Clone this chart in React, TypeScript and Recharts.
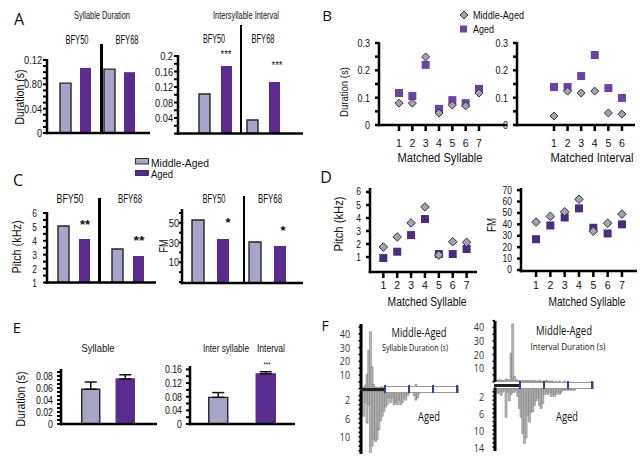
import React from 'react';
import { BarChart, Bar, XAxis, YAxis, ScatterChart, Scatter, ErrorBar, Cell } from 'recharts';

// ---------------- data ----------------
const birds = ['BFY50', 'BFY68'];
const sylDurMiddle = [0.082, 0.105];
const sylDurAged = [0.107, 0.1];
const intDurMiddle = [0.102, 0.035];
const intDurAged = [0.174, 0.133];
const pitchMiddle = [5.06, 3.41];
const pitchAged = [4.13, 2.91];
const fmMiddle = [52.9, 30.5];
const fmAged = [33.6, 26.5];
const FM_AXIS_MIN = -11;

const sylIdx = [1, 2, 3, 4, 5, 6, 7];
const intIdx = [1, 2, 3, 4, 5, 6];
const sylDurMatchedMiddle = [0.08, 0.08, 0.249, 0.044, 0.073, 0.07, 0.117];
const sylDurMatchedAged = [0.117, 0.106, 0.22, 0.059, 0.091, 0.08, 0.132];
const intDurMatchedMiddle = [0.033, 0.124, 0.117, 0.124, 0.044, 0.04];
const intDurMatchedAged = [0.139, 0.139, 0.179, 0.256, 0.135, 0.099];
const pitchMatchedMiddle = [1.77, 2.54, 3.62, 4.85, 1.15, 2.18, 2.13];
const pitchMatchedAged = [0.92, 1.41, 2.69, 3.92, 1.23, 1.23, 1.62];
const fmMatchedMiddle = [42, 47, 51, 62, 34, 41, 49];
const fmMatchedAged = [27, 39, 46, 54, 37, 32, 40];

const groupsE = ['Middle-Aged', 'Aged'];
const sylMean = [0.058, 0.075];
const sylSem = [0.012, 0.007];
const intMean = [0.078, 0.147];
const intSem = [0.014, 0.006];

const histSylMiddle = [0.5, 1, 2.7, 10.5, 28, 41.6, 16, 3, 1, 1, 0.5, 1, 1.5, 0.5, 1, 0.5, 0, 0.5, 1, 0.5, 0, 0, 0.5, 0, 0, 0.5, 1, 0.5, 0, 0, 0, 0, 3, 1.5, 0, 0, 0, 0, 0, 0, 0, 0, 0, 0, 0, 0, 0, 0, 0, 0, 0, 0, 0, 0, 0, 0, 0];
const histSylAged = [4, 5.5, 2.5, 7, 3, 14, 12, 10.5, 11, 10.5, 8.5, 6.5, 5.5, 4.5, 3.5, 3, 1.5, 2.5, 1.5, 3, 2.5, 3, 2, 3, 2.5, 1.5, 2, 1, 0.5, 0, 0, 1, 2, 1.5, 0.5, 0, 0, 0, 0, 0, 0, 0, 0, 0, 0, 0, 0, 0, 0, 0, 0, 0, 0, 0, 0, 0, 0];
const histIntMiddle = [1, 1, 1.5, 1, 1, 0.5, 2, 1.5, 1, 21, 42.5, 4, 1.5, 1, 1, 0.5, 1, 0.5, 1, 1, 0.5, 1, 0.5, 1, 0.5, 0.5, 1, 0.5, 0.5, 0.5, 1, 0.5, 0.5, 0.5, 0.5, 0, 0.5, 0, 0.5, 0, 0, 0.5, 0, 0, 0, 0, 0, 0, 0, 0, 0, 0, 0, 0, 0, 0, 0, 0];
const histIntAged = [0.5, 1.3, 1, 1.7, 1, 0.5, 6.9, 1, 3, 1.5, 1, 1, 0.5, 2, 4.8, 6.9, 10.7, 13, 11.7, 6.5, 8, 5.7, 5.5, 4.1, 3, 2.5, 4.1, 4.8, 3.6, 1.5, 1, 1.5, 1, 2, 1.5, 2, 1.5, 1, 1.5, 1, 0.5, 0.5, 0.5, 0.5, 0.5, 0.5, 0.5, 0.5, 0, 0, 0, 0, 0, 0, 0, 0, 0, 0];

// tick values / labels
const aLeftTicks = [0, 0.01, 0.02, 0.03, 0.04, 0.05, 0.06, 0.07, 0.08, 0.09, 0.1, 0.11, 0.12];
const aLeftLabelVals = [0, 0.04, 0.08, 0.12];
const aLeftLabels = ['0', '0.04', '0.80', '0.12'];
const aRightTicks = [0, 0.02, 0.04, 0.06, 0.08, 0.1, 0.12, 0.14, 0.16, 0.18, 0.2];
const aRightLabelVals = [0.04, 0.08, 0.12, 0.16, 0.2];
const aRightLabels = ['0.04', '0.08', '0.12', '0.16', '0.2'];
const bTicks = [0, 0.05, 0.1, 0.15, 0.2, 0.25, 0.3];
const bLabelVals = [0, 0.1, 0.2, 0.3];
const bLabels = ['0', '0.1', '0.2', '0.3'];
const cLeftTicks = [1, 1.5, 2, 2.5, 3, 3.5, 4, 4.5, 5, 5.5, 6];
const cLeftLabelVals = [1, 2, 3, 4, 5, 6];
const cLeftLabels = ['1', '2', '3', '4', '5', '6'];
const cRightTicks = [-10, 0, 10, 20, 30, 40, 50, 60];
const cRightLabelVals = [10, 30, 50];
const cRightLabels = ['10', '30', '50'];
const dLeftTicks = [1, 2, 3, 4, 5, 6];
const dLeftLabels = ['1', '2', '3', '4', '5', '6'];
const dRightTicks = [0, 10, 20, 30, 40, 50, 60, 70];
const dRightLabels = ['0', '10', '20', '30', '40', '50', '60', '70'];
const eLeftTicks = [0, 0.0067, 0.0133, 0.02, 0.0267, 0.0333, 0.04, 0.0467, 0.0533, 0.06, 0.0667, 0.0733, 0.08, 0.0867];
const eLeftLabelVals = [0, 0.02, 0.04, 0.06, 0.08];
const eLeftLabels = ['0', '0.02', '0.04', '0.06', '0.08'];
const eRightTicks = [0, 0.02, 0.04, 0.06, 0.08, 0.1, 0.12, 0.14, 0.16];
const eRightLabelVals = [0, 0.04, 0.08, 0.12, 0.16];
const eRightLabels = ['0', '0.04', '0.08', '0.12', '0.16'];
const fUpTicks = [0, 5, 10, 15, 20, 25, 30, 35, 40, 45];
const fUpLabelVals = [10, 20, 30, 40];
const fUpLabels = ['10', '20', '30', '40'];
const fLowLeftTicks = [1, 2, 3, 4, 5, 6, 7, 8, 9, 10, 11, 12, 13];
const fLowRightTicks = [1, 2, 3, 4, 5, 6, 7, 8, 9, 10, 11, 12, 13, 14];
const fLowLeftLabelVals = [2, 6, 10];
const fLowLeftLabels = ['2', '6', '10'];
const fLowRightLabelVals = [2, 6, 10, 14];
const fLowRightLabels = ['2', '6', '10', '14'];

// ---------------- layout ----------------
type Fr = { x0: number; x1: number; y0: number; y1: number; yW: number; xH: number };
const frA1: Fr = { x0: 47, x1: 150, y0: 60, y1: 133, yW: 40, xH: 2 };
const frA2: Fr = { x0: 178, x1: 303, y0: 56, y1: 133.5, yW: 40, xH: 2 };
const frB1: Fr = { x0: 379, x1: 507, y0: 43, y1: 125, yW: 36, xH: 26 };
const frB2: Fr = { x0: 517, x1: 635, y0: 43, y1: 125, yW: 36, xH: 26 };
const frC1: Fr = { x0: 47, x1: 156, y0: 213, y1: 282.5, yW: 40, xH: 2 };
const frC2: Fr = { x0: 182, x1: 303, y0: 210, y1: 283, yW: 40, xH: 2 };
const frD1: Fr = { x0: 370, x1: 477, y0: 189, y1: 272, yW: 36, xH: 24 };
const frD2: Fr = { x0: 521, x1: 637, y0: 189, y1: 271, yW: 36, xH: 24 };
const frE1: Fr = { x0: 61, x1: 157, y0: 370, y1: 424, yW: 40, xH: 2 };
const frE2: Fr = { x0: 190, x1: 295, y0: 367, y1: 424, yW: 40, xH: 2 };
const frF1: Fr = { x0: 361, x1: 457, y0: 325, y1: 388.7, yW: 30, xH: 0 };
const frF2: Fr = { x0: 361, x1: 457, y0: 391, y1: 453, yW: 30, xH: 0 };
const frF3: Fr = { x0: 495, x1: 592, y0: 322, y1: 381.7, yW: 30, xH: 0 };
const frF4: Fr = { x0: 495, x1: 592, y0: 387.5, y1: 450, yW: 30, xH: 0 };
const dA1: [number, number] = [0, 0.12];
const dA2: [number, number] = [0, 0.2];
const dB: [number, number] = [0, 0.3];
const xdB1: [number, number] = [-0.5, 9.1];
const xdB2: [number, number] = [-1.72, 6.96];
const dC1: [number, number] = [1, 6];
const dC2: [number, number] = [FM_AXIS_MIN, 63];
const dD1: [number, number] = [-0.15, 6.23];
const dD2: [number, number] = [-0.9, 71];
const xdD1: [number, number] = [0.04, 7.75];
const xdD2: [number, number] = [-0.05, 8.05];
const dE1: [number, number] = [0, 0.09];
const dE2: [number, number] = [0, 0.167];
const dF1: [number, number] = [0, 46.5];
const dF2: [number, number] = [0, 13.5];
const dF3: [number, number] = [0, 44];
const dF4: [number, number] = [0, 14.7];

// ---------------- styles ----------------
const SANS = "'Liberation Sans', Arial, Helvetica, sans-serif";
const NARROW = "'Liberation Sans Narrow', 'Liberation Sans', Arial, sans-serif";
const MYR = "'Open Sans', 'Noto Sans', 'DejaVu Sans', sans-serif";
const MID = '#a7a5c7';
const AGED = '#5b2c8f';
const EDGE = '#262626';
const DIAM = '#a3a1b6';
const SQ_B = '#6c42a3';
const SQ_D = '#4c2c7e';

const MT = 10;
const MR = 4;
const MB = 8;
function fr(f: Fr) {
  return {
    style: { position: 'absolute' as const, left: f.x0 - f.yW, top: f.y0 - MT },
    width: f.x1 - f.x0 + f.yW + MR,
    height: f.y1 - f.y0 + MT + f.xH + MB,
    margin: { top: MT, right: MR, bottom: MB, left: 0 },
  };
}

// axis frame rectangles (axis lines + tick marks), drawn in the overlay svg along each plot frame
function AxisRects(props: {
  f: Fr; yd: [number, number]; yt: number[]; ts: number; tw: number; w: number; down?: boolean; xLine?: boolean;
  xd?: [number, number]; xt?: number[]; xts?: number;
}) {
  const { f, yd, w } = props;
  const H = f.y1 - f.y0;
  const W = f.x1 - f.x0;
  const py = (v: number) => {
    const r = (v - yd[0]) / (yd[1] - yd[0]);
    return props.down ? f.y0 + r * H : f.y1 - r * H;
  };
  const out: any[] = [];
  const box = (x: number, y: number, ww: number, hh: number, k: string) =>
    out.push(<rect key={k} x={x} y={y} width={ww} height={hh} fill="#000" />);
  box(f.x0 - w / 2, f.y0 - (props.down ? 0 : 1), w, H + (props.xLine ? w / 2 : 0) + 1, 'yl');
  if (props.xLine) box(f.x0 - w / 2, f.y1 - w / 2, W + w / 2, w, 'xl');
  props.yt.forEach((v, i) => box(f.x0 - props.ts, py(v) - props.tw / 2, props.ts, props.tw, 'yt' + i));
  if (props.xd && props.xt) {
    const xd = props.xd;
    props.xt.forEach((v, i) => {
      const px = f.x0 + ((v - xd[0]) / (xd[1] - xd[0])) * W;
      box(px - 1.25, f.y1, 2.5, props.xts || 6, 'xt' + i);
    });
  }
  return <g>{out}</g>;
}

function estW(s: string, size: number) {
  let w = 0;
  for (const c of s) w += c === '.' ? 0.278 : c === '-' ? 0.333 : 0.556;
  return w * size;
}

function yTick(vals: number[], labels: string[], size: number, squeeze = 0.8, ff: string = SANS, fill = '#111') {
  return (p: any) => {
    const v = p && p.payload ? p.payload.value : NaN;
    const i = vals.findIndex((t) => Math.abs(t - v) < 1e-6);
    if (i < 0) return <g />;
    return (
      <text x={p.x} y={p.y} textAnchor="end" dominantBaseline="central" fontSize={size} fontFamily={ff} fill={fill}
        textLength={estW(labels[i], size) * squeeze} lengthAdjust="spacingAndGlyphs">
        {labels[i]}
      </text>
    );
  };
}
function xTick(size: number) {
  return (p: any) => (
    <text x={p.x} y={p.y} textAnchor="middle" dominantBaseline="central" fontSize={size} fontFamily={SANS} fill="#111">
      {p.payload.value}
    </text>
  );
}

function Grouped(props: {
  f: Fr; mid: number[]; aged: number[]; base?: number; domain: [number, number]; ticks: number[];
  lv: number[]; ll: string[]; fs: number; bs: number; gap: number; pl: number; pr: number; ts?: number; tm?: number;
}) {
  const { f } = props;
  const p = fr(f);
  const ts = props.ts ?? 4;
  const tm = props.tm ?? 1;
  const data = birds.map((g, i) => ({
    g,
    m: props.base === undefined ? props.mid[i] : [props.base, props.mid[i]],
    a: props.base === undefined ? props.aged[i] : [props.base, props.aged[i]],
  }));
  return (
    <div style={p.style}>
      <BarChart width={p.width} height={p.height} margin={p.margin} data={data} barGap={props.gap} barCategoryGap={0}>
        <XAxis dataKey="g" tick={false} tickLine={false} axisLine={false} height={f.xH} padding={{ left: props.pl, right: props.pr }} />
        <YAxis type="number" domain={props.domain} ticks={props.ticks} interval={0} allowDataOverflow width={f.yW}
          axisLine={false} tickLine={false} tickSize={ts} tickMargin={tm} tick={yTick(props.lv, props.ll, props.fs)} />
        <Bar dataKey="m" fill={MID} stroke={EDGE} strokeWidth={1.4} barSize={props.bs} isAnimationActive={false}>
          {data.map((d) => (
            <Cell key={d.g} fill={MID} stroke={EDGE} strokeWidth={1.4} />
          ))}
        </Bar>
        <Bar dataKey="a" fill={AGED} barSize={props.bs} isAnimationActive={false} />
      </BarChart>
    </div>
  );
}

const diamond = (fill: string, r: number) => (p: any) => (
  <polygon points={`${p.cx},${p.cy - r} ${p.cx + r},${p.cy} ${p.cx},${p.cy + r} ${p.cx - r},${p.cy}`} fill={fill} stroke="#333" strokeWidth={1} />
);
const square = (fill: string, h: number) => (p: any) => (
  <rect x={p.cx - h} y={p.cy - h} width={2 * h} height={2 * h} fill={fill} />
);

function Dots(props: {
  f: Fr; idx: number[]; mid: number[]; aged: number[]; xd: [number, number]; yd: [number, number];
  yt: number[]; lv: number[]; ll: string[]; fs: number; xfs: number; sq: string; r: number; h: number; tm: number;
}) {
  const { f } = props;
  const p = fr(f);
  const midData = props.idx.map((x, i) => ({ x, y: props.mid[i] }));
  const agedData = props.idx.map((x, i) => ({ x, y: props.aged[i] }));
  return (
    <div style={p.style}>
      <ScatterChart width={p.width} height={p.height} margin={p.margin}>
        <XAxis type="number" dataKey="x" domain={props.xd} ticks={props.idx} interval={0} allowDataOverflow height={f.xH}
          axisLine={false} tickLine={false} tickSize={6} tickMargin={props.tm} tick={xTick(props.xfs)} />
        <YAxis type="number" dataKey="y" domain={props.yd} ticks={props.yt} interval={0} allowDataOverflow width={f.yW}
          axisLine={false} tickLine={false} tickSize={4} tickMargin={5} tick={yTick(props.lv, props.ll, props.fs, 0.85)} />
        <Scatter data={agedData} shape={square(props.sq, props.h)} isAnimationActive={false} />
        <Scatter data={midData} shape={diamond(DIAM, props.r)} isAnimationActive={false} />
      </ScatterChart>
    </div>
  );
}

function MeanBars(props: {
  f: Fr; mean: number[]; sem: number[]; domain: [number, number]; ticks: number[]; lv: number[]; ll: string[];
  bs: number; pl: number; pr: number;
}) {
  const { f } = props;
  const p = fr(f);
  const data = groupsE.map((g, i) => ({ g, v: props.mean[i], e: [0, props.sem[i]] }));
  return (
    <div style={p.style}>
      <BarChart width={p.width} height={p.height} margin={p.margin} data={data} barCategoryGap={0}>
        <XAxis dataKey="g" tick={false} tickLine={false} axisLine={false} height={f.xH} padding={{ left: props.pl, right: props.pr }} />
        <YAxis type="number" domain={props.domain} ticks={props.ticks} interval={0} allowDataOverflow width={f.yW}
          axisLine={false} tickLine={false} tickSize={4} tickMargin={4} tick={yTick(props.lv, props.ll, 11, 0.8)} />
        <Bar dataKey="v" barSize={props.bs} isAnimationActive={false}>
          {data.map((d, i) => (
            <Cell key={d.g} fill={i === 0 ? MID : AGED} stroke={i === 0 ? EDGE : AGED} strokeWidth={1.4} />
          ))}
          <ErrorBar dataKey="e" width={6} stroke="#111" strokeWidth={1.5} direction="y" />
        </Bar>
      </BarChart>
    </div>
  );
}

function Hist(props: { f: Fr; vals: number[]; domain: [number, number]; lv: number[]; ll: string[]; down?: boolean; ticks: number[] }) {
  const { f } = props;
  const p = fr(f);
  const data = props.vals.map((v, i) => ({ i, v }));
  return (
    <div style={p.style}>
      <BarChart width={p.width} height={p.height} margin={p.margin} data={data} barCategoryGap={0} barGap={0}>
        <XAxis dataKey="i" hide />
        <YAxis type="number" reversed={!!props.down} domain={props.domain} ticks={props.ticks} interval={0} allowDataOverflow width={f.yW}
          axisLine={false} tickLine={false} tickSize={2} tickMargin={9}
          tick={yTick(props.lv, props.ll, 10, 0.92, MYR, '#333')} />
        <Bar dataKey="v" fill="#bdbdbd" stroke="#6a6a6a" strokeWidth={0.5} isAnimationActive={false} />
      </BarChart>
    </div>
  );
}

function T(p: { x: number; y: number; s: number; ff?: string; len?: number; rot?: number; anchor?: string; w?: any; children: any }) {
  return (
    <text x={p.x} y={p.y} fontSize={p.s} fontFamily={p.ff || NARROW} textAnchor={(p.anchor as any) || 'middle'}
      dominantBaseline="central" textLength={p.len} lengthAdjust={p.len ? 'spacingAndGlyphs' : undefined}
      transform={p.rot ? `rotate(${p.rot} ${p.x} ${p.y})` : undefined} fill="#111" fontWeight={p.w}>
      {p.children}
    </text>
  );
}

const vline = (x: number, y0: number, y1: number, w = 2.5) => (
  <div style={{ position: 'absolute', left: x - w / 2, top: y0, width: w, height: y1 - y0, background: '#000' }} />
);

function Strip(props: { x0: number; xb: number; x1: number; yc: number; marks: number[] }) {
  const { x0, xb, x1, yc } = props;
  return (
    <>
      <div style={{ position: 'absolute', left: x0 - 1.5, top: yc - 1.5, width: xb - x0 + 1.5, height: 3, background: '#222' }} />
      <div style={{ position: 'absolute', left: xb, top: yc - 3, width: x1 - xb, height: 5, background: '#fff', border: '0.5px solid #9a9a9a' }} />
      {props.marks.map((m) => (
        <div key={m} style={{ position: 'absolute', left: m - 0.75, top: yc - 4, width: 1.5, height: 8, background: '#2f3fb0' }} />
      ))}
    </>
  );
}

export default function App() {
  return (
    <div style={{ position: 'absolute', left: 0, top: 0, width: 640, height: 459, overflow: 'hidden', background: '#fff' }}>
      {/* Panel A */}
      <Grouped f={frA1} mid={sylDurMiddle} aged={sylDurAged}
        domain={dA1} ticks={aLeftTicks} lv={aLeftLabelVals} ll={aLeftLabels} fs={11.5} bs={11} gap={9} pl={6} pr={9} />
      <Grouped f={frA2} mid={intDurMiddle} aged={intDurAged}
        domain={dA2} ticks={aRightTicks} lv={aRightLabelVals} ll={aRightLabels} fs={11.5} bs={11} gap={11} pl={13} pr={16} />
      {vline(101.5, 44, 133)}
      {vline(241, 25, 133)}

      {/* Panel B */}
      <Dots f={frB1} idx={sylIdx} mid={sylDurMatchedMiddle} aged={sylDurMatchedAged}
        xd={xdB1} yd={dB} yt={bTicks} lv={bLabelVals} ll={bLabels} fs={10.5} xfs={10.5} sq={SQ_B} r={4} h={4} tm={12} />
      <Dots f={frB2} idx={intIdx} mid={intDurMatchedMiddle} aged={intDurMatchedAged}
        xd={xdB2} yd={dB} yt={bTicks} lv={bLabelVals} ll={bLabels} fs={10.5} xfs={10.5} sq={SQ_B} r={4} h={4} tm={12} />

      {/* Panel C */}
      <Grouped f={frC1} mid={pitchMiddle} aged={pitchAged}
        domain={dC1} ticks={cLeftTicks} lv={cLeftLabelVals} ll={cLeftLabels} fs={10.5} bs={11} gap={10} pl={0} pr={1} ts={4} tm={6} />
      <Grouped f={frC2} mid={fmMiddle} aged={fmAged} base={FM_AXIS_MIN}
        domain={dC2} ticks={cRightTicks} lv={cRightLabelVals} ll={cRightLabels} fs={11.5} bs={12} gap={13} pl={0} pr={7} ts={3} tm={0} />
      {vline(99.5, 198, 283)}
      {vline(244, 196, 283)}

      {/* Panel D */}
      <Dots f={frD1} idx={sylIdx} mid={pitchMatchedMiddle} aged={pitchMatchedAged}
        xd={xdD1} yd={dD1} yt={dLeftTicks} lv={dLeftTicks} ll={dLeftLabels} fs={10} xfs={10.5} sq={SQ_D} r={4.3} h={4} tm={7} />
      <Dots f={frD2} idx={sylIdx} mid={fmMatchedMiddle} aged={fmMatchedAged}
        xd={xdD2} yd={dD2} yt={dRightTicks} lv={dRightTicks} ll={dRightLabels} fs={10} xfs={10.5} sq={SQ_D} r={4.3} h={4} tm={8} />

      {/* Panel E */}
      <MeanBars f={frE1} mean={sylMean} sem={sylSem} domain={dE1}
        ticks={eLeftTicks} lv={eLeftLabelVals} ll={eLeftLabels} bs={18} pl={12.75} pr={14.25} />
      <MeanBars f={frE2} mean={intMean} sem={intSem} domain={dE2}
        ticks={eRightTicks} lv={eRightLabelVals} ll={eRightLabels} bs={19} pl={4.75} pr={5.25} />

      {/* Panel F */}
      <Hist f={frF1} vals={histSylMiddle} domain={dF1} ticks={fUpTicks} lv={fUpLabelVals} ll={fUpLabels} />
      <Hist f={frF2} vals={histSylAged} domain={dF2} ticks={fLowLeftTicks} lv={fLowLeftLabelVals} ll={fLowLeftLabels} down />
      <Hist f={frF3} vals={histIntMiddle} domain={dF3} ticks={fUpTicks} lv={fUpLabelVals} ll={fUpLabels} />
      <Hist f={frF4} vals={histIntAged} domain={dF4} ticks={fLowRightTicks} lv={fLowRightLabelVals} ll={fLowRightLabels} down />
      <Strip x0={361} xb={385} x1={457} yc={389} marks={[385, 409, 433, 457]} />
      <Strip x0={495} xb={520} x1={592} yc={385} marks={[520, 544, 568, 592]} />

      {/* overlay: axis frames + text */}
      <svg width={640} height={459} style={{ position: 'absolute', left: 0, top: 0, pointerEvents: 'none' }}>
        <AxisRects f={frA1} yd={dA1} yt={aLeftTicks} ts={4} tw={2} w={2.5} xLine />
        <AxisRects f={frA2} yd={dA2} yt={aRightTicks} ts={4} tw={2} w={2.5} xLine />
        <AxisRects f={frB1} yd={dB} yt={bTicks} ts={4} tw={2.5} w={2.5} xLine xd={xdB1} xt={sylIdx} xts={6} />
        <AxisRects f={frB2} yd={dB} yt={bTicks} ts={4} tw={2.5} w={2.5} xLine xd={xdB2} xt={intIdx} xts={6} />
        <AxisRects f={frC1} yd={dC1} yt={cLeftTicks} ts={4} tw={2} w={2.5} xLine />
        <AxisRects f={frC2} yd={dC2} yt={cRightTicks} ts={3} tw={2} w={2.5} xLine />
        <AxisRects f={frD1} yd={dD1} yt={dLeftTicks} ts={4} tw={2.5} w={2.5} xLine xd={xdD1} xt={sylIdx} xts={6} />
        <AxisRects f={frD2} yd={dD2} yt={dRightTicks} ts={4} tw={2.5} w={2.5} xLine xd={xdD2} xt={sylIdx} xts={6} />
        <AxisRects f={frE1} yd={dE1} yt={eLeftTicks} ts={4} tw={2} w={2.5} xLine />
        <AxisRects f={frE2} yd={dE2} yt={eRightTicks} ts={4} tw={2} w={2.5} xLine />
        <AxisRects f={frF1} yd={dF1} yt={fUpTicks} ts={2.5} tw={1.5} w={3} />
        <AxisRects f={frF2} yd={dF2} yt={fLowLeftTicks} ts={2.5} tw={1.5} w={3} down />
        <AxisRects f={frF3} yd={dF3} yt={fUpTicks} ts={2.5} tw={1.5} w={3} />
        <AxisRects f={frF4} yd={dF4} yt={fLowRightTicks} ts={2.5} tw={1.5} w={3} down />

        {/* panel letters */}
        <T x={19} y={19} s={16} ff={MYR}>A</T>
        <T x={327} y={15} s={15} ff={MYR}>B</T>
        <T x={18} y={180} s={16} ff={MYR}>C</T>
        <T x={326} y={177} s={16} ff={MYR}>D</T>
        <T x={17} y={327} s={15} ff={MYR}>E</T>
        <T x={325} y={325} s={14} ff={MYR}>F</T>

        {/* A */}
        <T x={102} y={15} s={10.5} len={56}>Syllable Duration</T>
        <T x={77} y={40} s={12} len={23}>BFY50</T>
        <T x={127} y={40} s={12} len={23}>BFY68</T>
        <T x={246} y={15} s={10.5} len={66}>Intersyllable Interval</T>
        <T x={214} y={39} s={12} len={22}>BFY50</T>
        <T x={263} y={39} s={12} len={23}>BFY68</T>
        <T x={226} y={54} s={10} len={11}>***</T>
        <T x={277} y={65} s={10} len={11}>***</T>
        <T x={19} y={97} s={13} len={55} rot={-90} ff={SANS}>Duration (s)</T>

        {/* B */}
        <polygon points="464,11 468,15 464,19 460,15" fill={DIAM} stroke="#333" strokeWidth={1} />
        <T x={473} y={15} s={11} len={51} anchor="start">Middle-Aged</T>
        <rect x={460} y={25.5} width={7} height={7} fill={SQ_B} />
        <T x={473} y={29} s={11} len={21} anchor="start">Aged</T>
        <T x={344} y={92} s={10.5} len={50} rot={-90} ff={SANS}>Duration (s)</T>
        <T x={440} y={158} s={12} len={85} ff={SANS}>Matched Syllable</T>
        <T x={592} y={158} s={12} len={83} ff={SANS}>Matched Interval</T>

        {/* C */}
        <rect x={135.5} y={158.5} width={13} height={5.5} fill={MID} stroke="#333" strokeWidth={1} />
        <T x={151} y={162.5} s={11} len={58} anchor="start">Middle-Aged</T>
        <rect x={135.5} y={170.5} width={13} height={5} fill="#4f2d8a" stroke="#2a1650" strokeWidth={0.8} />
        <T x={151} y={174} s={11} len={22} anchor="start">Aged</T>
        <T x={70} y={199} s={12} len={27}>BFY50</T>
        <T x={130} y={199} s={12} len={24}>BFY68</T>
        <T x={214} y={199} s={12} len={23}>BFY50</T>
        <T x={270} y={199} s={12} len={24}>BFY68</T>
        <T x={85} y={224} s={13} len={10} w="bold">**</T>
        <T x={139} y={240} s={13} len={11} w="bold">**</T>
        <T x={228} y={222} s={13} w="bold">*</T>
        <T x={283} y={230} s={13} w="bold">*</T>
        <T x={16} y={247} s={13} len={53} rot={-90} ff={SANS}>Pitch (kHz)</T>
        <T x={164} y={246} s={12} len={13} rot={-90} ff={SANS}>FM</T>

        {/* D */}
        <T x={338} y={224} s={13} len={55} rot={-90} ff={SANS}>Pitch (kHz)</T>
        <T x={492} y={225} s={12} len={14} rot={-90} ff={SANS}>FM</T>
        <T x={427} y={302} s={12} len={79} ff={SANS}>Matched Syllable</T>
        <T x={587} y={302} s={12} len={77} ff={SANS}>Matched Syllable</T>

        {/* E */}
        <T x={98} y={348} s={10.5} len={33}>Syllable</T>
        <T x={20} y={399} s={13} len={55} rot={-90} ff={SANS}>Duration (s)</T>
        <T x={226} y={348} s={10} len={46}>Inter syllable</T>
        <T x={271} y={348} s={10} len={28}>Interval</T>
        <T x={267} y={364} s={7} len={7}>***</T>

        {/* F */}
        <T x={419} y={332} s={12.5} len={55} ff={MYR}>Middle-Aged</T>
        <T x={415} y={347} s={8.5} len={66} ff={MYR}>Syllable Duration (s)</T>
        <T x={429} y={416} s={12.5} len={22} ff={MYR}>Aged</T>
        <T x={564} y={330} s={12.5} len={56} ff={MYR}>Middle-Aged</T>
        <T x={568} y={346} s={8.5} len={75} ff={MYR}>Interval Duration (s)</T>
        <T x={567} y={416} s={12.5} len={22} ff={MYR}>Aged</T>
      </svg>
    </div>
  );
}
